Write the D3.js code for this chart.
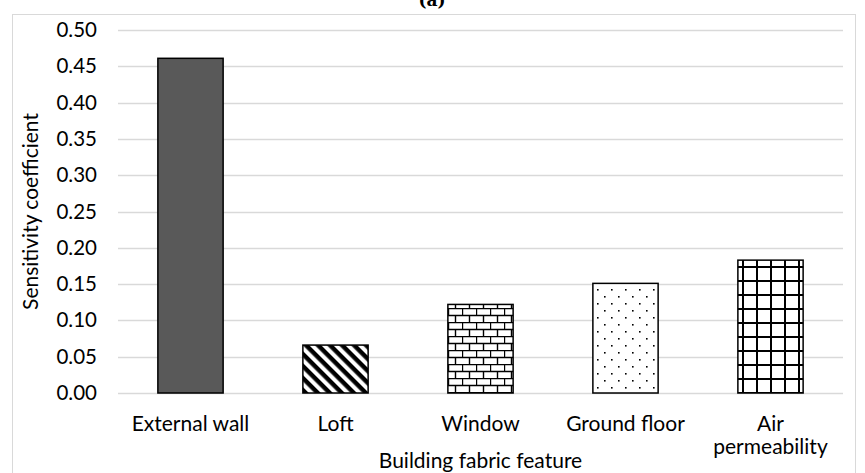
<!DOCTYPE html>
<html>
<head>
<meta charset="utf-8">
<script src="https://cdn.jsdelivr.net/npm/d3@7"></script>
<style>
  body { margin: 0; background: #fff; }
  text { font-family: Lato, "Open Sans", sans-serif; fill: #000; }
</style>
</head>
<body>
<div id="chart"></div>
<script>
const categories = ["External wall", "Loft", "Window", "Ground floor", "Air permeability"];
const values = [0.461, 0.066, 0.122, 0.151, 0.183];
const fills = ["solid", "stripes", "bricks", "dots", "grid"];
const yTicks = [0, 0.05, 0.1, 0.15, 0.2, 0.25, 0.3, 0.35, 0.4, 0.45, 0.5];

const W = 865, H = 473;
const margin = { left: 118, right: 22, top: 30, bottom: 80 };

const svg = d3.select("#chart").append("svg")
  .attr("width", W).attr("height", H);

// patterns
const defs = svg.append("defs");

const stripes = defs.append("pattern").attr("id", "stripes")
  .attr("patternUnits", "userSpaceOnUse").attr("width", 8.5).attr("height", 8.5)
  .attr("patternTransform", "rotate(45)");
stripes.append("rect").attr("width", 8.5).attr("height", 8.5).attr("fill", "#fff");
stripes.append("rect").attr("width", 8.5).attr("height", 4.4).attr("fill", "#000");

const bricks = defs.append("pattern").attr("id", "bricks")
  .attr("patternUnits", "userSpaceOnUse").attr("width", 14).attr("height", 14);
bricks.append("rect").attr("width", 14).attr("height", 14).attr("fill", "#fff");
bricks.append("path")
  .attr("d", "M0,0.5H14M0,7.5H14M0.5,0V7M7.5,7V14")
  .attr("stroke", "#000").attr("stroke-width", 1.4).attr("fill", "none");

const dots = defs.append("pattern").attr("id", "dots")
  .attr("patternUnits", "userSpaceOnUse").attr("width", 14).attr("height", 14);
dots.append("rect").attr("width", 14).attr("height", 14).attr("fill", "#fff");
dots.append("rect").attr("x", 2).attr("y", 2).attr("width", 1.6).attr("height", 1.6).attr("fill", "#000");
dots.append("rect").attr("x", 9).attr("y", 9).attr("width", 1.6).attr("height", 1.6).attr("fill", "#000");

const grid = defs.append("pattern").attr("id", "grid")
  .attr("patternUnits", "userSpaceOnUse").attr("width", 14).attr("height", 14);
grid.append("rect").attr("width", 14).attr("height", 14).attr("fill", "#fff");
grid.append("path").attr("d", "M0,1H14M1,0V14")
  .attr("stroke", "#000").attr("stroke-width", 2).attr("fill", "none");

// outer border
svg.append("rect").attr("x", 12.5).attr("y", 14.5)
  .attr("width", 843).attr("height", 470)
  .attr("fill", "none").attr("stroke", "#d9d9d9");

svg.append("text").attr("x", 432).attr("y", 6)
  .attr("text-anchor", "middle")
  .style("font-family", "'DejaVu Serif', serif").style("font-weight", "bold")
  .style("font-size", "17px").text("(a)");

var xScale = d3.scaleBand()
  .domain(categories)
  .range([margin.left, W - margin.right])
  .paddingInner(0.55).paddingOuter(0.275);

var yScale = d3.scaleLinear()
  .domain([0, 0.5])
  .range([H - margin.bottom, margin.top]);

// gridlines
svg.append("g").selectAll("line")
  .data(yTicks)
  .enter()
  .append("line")
  .attr("x1", margin.left).attr("x2", W - margin.right)
  .attr("y1", d => Math.round(yScale(d)) + 0.5)
  .attr("y2", d => Math.round(yScale(d)) + 0.5)
  .attr("stroke", "#d9d9d9").attr("stroke-width", 1.3);

const yAxis = d3.axisLeft(yScale).tickValues(yTicks)
  .tickFormat(d3.format(".2f")).tickSize(0).tickPadding(21);
const gy = svg.append("g")
  .attr("transform", "translate(" + margin.left + ",0)")
  .call(yAxis);
gy.select(".domain").remove();
gy.selectAll("text").style("font-size", "20.5px").style("font-family", "Lato, sans-serif");

// bars
svg.selectAll(".bar")
  .data(categories)
  .enter()
  .append("rect")
  .attr("class", "bar")
  .attr("x", d => xScale(d))
  .attr("width", xScale.bandwidth())
  .attr("y", (d, i) => yScale(values[i]))
  .attr("height", (d, i) => yScale(0) - yScale(values[i]))
  .attr("fill", (d, i) => fills[i] === "solid" ? "#595959" : "url(#" + fills[i] + ")")
  .attr("stroke", "#000").attr("stroke-width", 1.5);

// x labels
const xl = svg.append("g").selectAll("text")
  .data(categories)
  .enter()
  .append("text")
  .attr("text-anchor", "middle")
  .style("font-size", "21px")
  .attr("x", d => xScale(d) + xScale.bandwidth() / 2)
  .attr("y", 431);
xl.each(function (d) {
  const t = d3.select(this);
  if (d === "Air permeability") {
    t.append("tspan").attr("x", t.attr("x")).attr("y", 431).text("Air");
    t.append("tspan").attr("x", t.attr("x")).attr("y", 454).text("permeability");
  } else {
    t.text(d);
  }
});

svg.append("text")
  .attr("x", (margin.left + W - margin.right) / 2).attr("y", 468)
  .attr("text-anchor", "middle").style("font-size", "21px")
  .text("Building fabric feature");

svg.append("text")
  .attr("transform", "translate(38," + yScale(0.25) + ") rotate(-90)")
  .attr("text-anchor", "middle").style("font-size", "21px")
  .text("Sensitivity coefficient");
</script>
</body>
</html>
